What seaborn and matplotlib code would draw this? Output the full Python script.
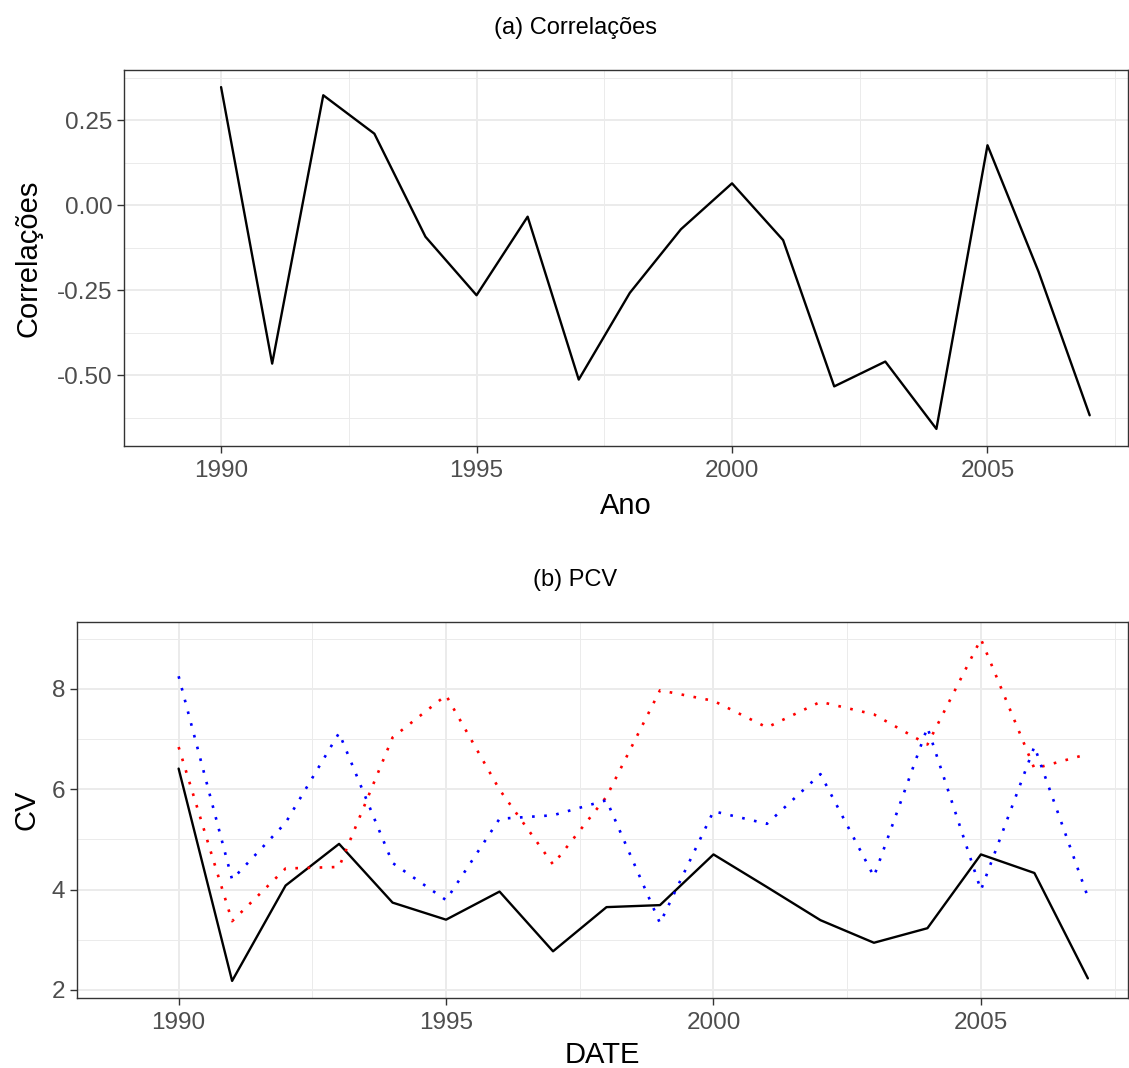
import matplotlib
matplotlib.use("Agg")
import matplotlib.pyplot as plt
import seaborn as sns
import pandas as pd
from matplotlib.ticker import FixedLocator, FormatStrFormatter

# ---------------- data ----------------
years = list(range(1990, 2008))
correlacoes = [0.347, -0.466, 0.323, 0.210, -0.093, -0.265, -0.034, -0.513, -0.258,
               -0.071, 0.064, -0.103, -0.533, -0.460, -0.658, 0.176, -0.196, -0.618]
cv_black = [6.41, 2.18, 4.08, 4.91, 3.74, 3.40, 3.96, 2.77, 3.65,
            3.69, 4.70, 4.05, 3.39, 2.94, 3.23, 4.70, 4.33, 2.23]
cv_red = [6.84, 3.37, 4.42, 4.45, 7.03, 7.87, 5.99, 4.50, 5.85,
          7.97, 7.76, 7.23, 7.74, 7.49, 6.89, 8.99, 6.41, 6.70]
cv_blue = [8.25, 4.20, 5.33, 7.12, 4.53, 3.79, 5.41, 5.48, 5.78,
           3.33, 5.56, 5.31, 6.30, 4.26, 7.23, 3.99, 6.85, 3.85]

x_major = [1990, 1995, 2000, 2005]
x_minor = [1987.5, 1992.5, 1997.5, 2002.5, 2007.5]
top_major = [-0.50, -0.25, 0.00, 0.25]
top_minor = [-0.625, -0.375, -0.125, 0.125, 0.375]
bot_major = [2, 4, 6, 8]
bot_minor = [3, 5, 7, 9]

title_a = "(a) Correlações"
title_b = "(b) PCV"

# ---------------- style ----------------
sns.set_theme(style="white")
plt.rcParams["font.family"] = ["Liberation Sans", "DejaVu Sans"]
plt.rcParams["axes.unicode_minus"] = False

W, H = 1129, 1068
fig = plt.figure(figsize=(W / 100, H / 100), dpi=100)
fig.patch.set_facecolor("white")

ax1 = fig.add_axes([124 / W, 1 - 446 / H, 1004 / W, 376 / H])
ax2 = fig.add_axes([77 / W, 1 - 998 / H, 1051 / W, 376 / H])

df_top = pd.DataFrame({"Ano": years, "Correlações": correlacoes})
sns.lineplot(data=df_top, x="Ano", y="Correlações", ax=ax1, color="black",
             linewidth=1.7)

df_b = pd.DataFrame({"DATE": years, "black": cv_black, "red": cv_red, "blue": cv_blue})
sns.lineplot(data=df_b, x="DATE", y="black", ax=ax2, color="black", linewidth=1.7)
sns.lineplot(data=df_b, x="DATE", y="red", ax=ax2, color="#FF0000", linewidth=1.9,
             linestyle=(0, (1, 3.6)))
sns.lineplot(data=df_b, x="DATE", y="blue", ax=ax2, color="#0000FF", linewidth=1.9,
             linestyle=(0, (1, 3.6)))


def expand(vals):
    lo, hi = min(vals), max(vals)
    r = hi - lo
    return lo - 0.05 * r, hi + 0.05 * r


def style(ax, ymaj, ymin, fmt):
    ax.set_facecolor("white")
    for s in ax.spines.values():
        s.set_visible(True)
        s.set_color("#333333")
        s.set_linewidth(1.0)
    ax.xaxis.set_major_locator(FixedLocator(x_major))
    ax.xaxis.set_minor_locator(FixedLocator(x_minor))
    ax.yaxis.set_major_locator(FixedLocator(ymaj))
    ax.yaxis.set_minor_locator(FixedLocator(ymin))
    ax.yaxis.set_major_formatter(FormatStrFormatter(fmt))
    ax.grid(which="major", color="#EBEBEB", linewidth=1.4)
    ax.grid(which="minor", color="#EBEBEB", linewidth=0.7)
    ax.set_axisbelow(True)
    ax.tick_params(which="major", length=5, width=1.0, color="#333333",
                   labelsize=17.5, labelcolor="#4D4D4D", bottom=True, left=True)
    ax.tick_params(axis="x", which="major", pad=5)
    ax.tick_params(axis="y", which="major", pad=3.5)
    ax.tick_params(which="minor", length=0)
    ax.set_xlim(1988.1, 2007.75)


style(ax1, top_major, top_minor, "%.2f")
style(ax2, bot_major, bot_minor, "%d")
ax1.set_ylim(*expand(correlacoes))
ax2.set_ylim(*expand(cv_black + cv_red + cv_blue))

ax1.set_xlabel("Ano", fontsize=21, color="black")
ax1.set_ylabel("Correlações", fontsize=21, color="black")
ax2.set_xlabel("DATE", fontsize=21, color="black")
ax2.set_ylabel("CV", fontsize=21, color="black")

ax1.xaxis.set_label_coords(0.5, -0.122)
ax2.xaxis.set_label_coords(0.5, -0.114)
ax1.yaxis.set_label_coords(-0.0815, 0.5)
ax2.yaxis.set_label_coords(-0.0345, 0.5)

fig.text(575 / W, 1 - 34.3 / H, title_a, ha="center", va="baseline",
         fontsize=17, color="black")
fig.text(575 / W, 1 - 586 / H, title_b, ha="center", va="baseline",
         fontsize=17, color="black")

fig.savefig("out.png", dpi=100, facecolor="white")
